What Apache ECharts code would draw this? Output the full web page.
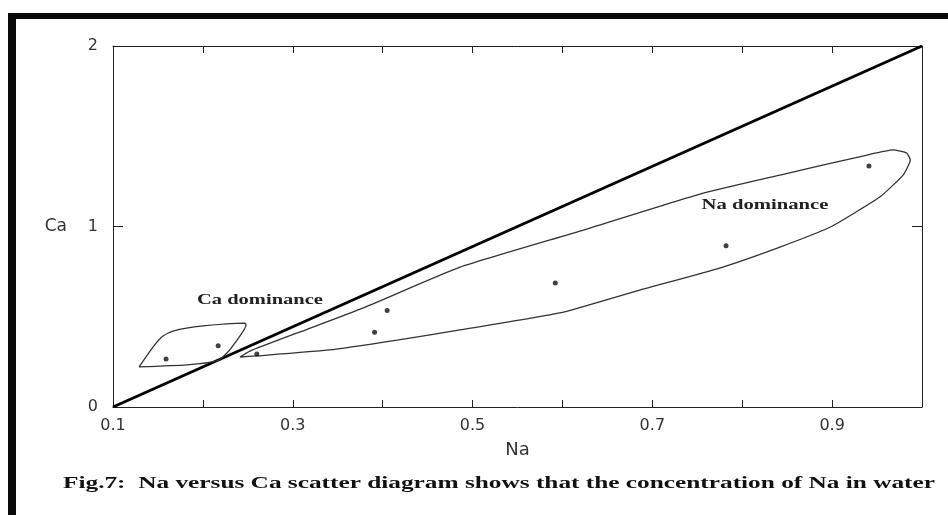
<!DOCTYPE html>
<html>
<head>
<meta charset="utf-8">
<script src="https://cdn.jsdelivr.net/npm/echarts@6/dist/echarts.min.js"></script>
<style>
html,body{margin:0;padding:0;background:#fff;}
#chart{width:948px;height:515px;}
</style>
</head>
<body>
<div id="chart"></div>
<script>
// ---- data ----
const xTickLabels = ['0.1', '0.3', '0.5', '0.7', '0.9'];
const yTickLabels = ['0', '1', '2'];
const sampleNa = [0.159, 0.217, 0.260, 0.391, 0.405, 0.592, 0.782, 0.941];
const sampleCa = [0.266, 0.340, 0.294, 0.414, 0.534, 0.687, 0.894, 1.335];
const equiNa = [0.1, 1.0];
const equiCa = [0, 2];
const caDomNa = [0.129, 0.1445, 0.1556, 0.1667, 0.200, 0.2468, 0.248, 0.2357, 0.2268, 0.2157, 0.1823, 0.129];
const caDomCa = [0.222, 0.332, 0.393, 0.421, 0.449, 0.465, 0.454, 0.355, 0.299, 0.255, 0.233, 0.222];
const naDomNa = [0.2413, 0.2524, 0.308, 0.378, 0.486, 0.6195, 0.753, 0.842, 0.939, 0.968, 0.983, 0.987, 0.979, 0.953, 0.898, 0.842, 0.775, 0.686, 0.597, 0.486, 0.416, 0.341, 0.260, 0.2413];
const naDomCa = [0.277, 0.310, 0.416, 0.548, 0.775, 0.975, 1.180, 1.285, 1.396, 1.424, 1.407, 1.368, 1.285, 1.163, 0.997, 0.886, 0.770, 0.648, 0.521, 0.427, 0.371, 0.316, 0.283, 0.277];
const regionLabels = ['Ca dominance', 'Na dominance'];
const regionLabelNa = [0.2635, 0.8253];
const regionLabelCa = [0.593, 1.119];
const captionText = 'Fig.7:  Na versus Ca scatter diagram shows that the concentration of Na in water';

const zip = (a, b) => a.map((v, i) => [v, b[i]]);

const chart = echarts.init(document.getElementById('chart'), null, {renderer: 'canvas'});
const axisColor = '#222';
const labelFont = 'DejaVu Sans';

function xFmt(v) {
  const s = (Math.round(v * 10) / 10).toFixed(1);
  return xTickLabels.includes(s) ? s : '';
}
function yFmt(v) {
  const s = String(Math.round(v));
  return yTickLabels.includes(s) ? s : '';
}

const option = {
  animation: false,
  backgroundColor: '#fff',
  grid: {left: 113, right: 26, top: 46, bottom: 108, containLabel: false},
  xAxis: [
    {
      type: 'value', position: 'bottom', min: 0.1, max: 1.0, interval: 0.1,
      axisLine: {show: true, lineStyle: {color: axisColor, width: 1}},
      axisTick: {show: true, inside: true, length: 7, lineStyle: {color: axisColor}},
      axisLabel: {formatter: xFmt, fontFamily: labelFont, fontSize: 16, color: '#333', margin: 11},
      splitLine: {show: false},
      name: 'Na', nameLocation: 'middle', nameGap: 34,
      nameTextStyle: {fontFamily: labelFont, fontSize: 18, color: '#333'}
    },
    {
      type: 'value', position: 'top', min: 0.1, max: 1.0, interval: 0.1,
      axisLine: {show: true, onZero: false, lineStyle: {color: axisColor, width: 1}},
      axisTick: {show: true, inside: true, length: 7, lineStyle: {color: axisColor}},
      axisLabel: {show: false},
      splitLine: {show: false}
    }
  ],
  yAxis: [
    {
      type: 'value', position: 'left', min: 0, max: 2, interval: 1,
      axisLine: {show: true, onZero: false, lineStyle: {color: axisColor, width: 1}},
      axisTick: {show: true, inside: true, length: 10, lineStyle: {color: axisColor}},
      axisLabel: {formatter: yFmt, fontFamily: labelFont, fontSize: 16, color: '#333', margin: 15},
      splitLine: {show: false},
      name: 'Ca', nameLocation: 'middle', nameRotate: 0, nameGap: 46,
      nameTextStyle: {fontFamily: labelFont, fontSize: 17, color: '#333'}
    },
    {
      type: 'value', position: 'right', min: 0, max: 2, interval: 1,
      axisLine: {show: true, onZero: false, lineStyle: {color: axisColor, width: 1}},
      axisTick: {show: true, inside: true, length: 10, lineStyle: {color: axisColor}},
      axisLabel: {show: false},
      splitLine: {show: false}
    }
  ],
  series: [
    {
      name: 'Equiline', type: 'line', data: zip(equiNa, equiCa),
      symbol: 'none', lineStyle: {color: '#000', width: 3}, z: 3
    },
    {
      name: 'Ca dominance', type: 'line', data: zip(caDomNa, caDomCa),
      symbol: 'none', smooth: 0.2, lineStyle: {color: '#333', width: 1.3}
    },
    {
      name: 'Na dominance', type: 'line', data: zip(naDomNa, naDomCa),
      symbol: 'none', smooth: 0.15, lineStyle: {color: '#333', width: 1.3}
    },
    {
      name: 'Samples', type: 'scatter', data: zip(sampleNa, sampleCa),
      symbol: 'circle', symbolSize: 5, itemStyle: {color: '#111'}, z: 4
    }
  ]
};
chart.setOption(option);

// text width helper for horizontally stretched scanned text
const ctx = document.createElement('canvas').getContext('2d');
function stretch(text, font, target) {
  ctx.font = font;
  return target / ctx.measureText(text).width;
}

const regFont = 'bold 15px "Liberation Serif"';
const regTargets = [126, 127];
const graphics = [
  {type: 'rect', shape: {x: 8, y: 13, width: 8, height: 502}, style: {fill: '#0a0a0a'}},
  {type: 'rect', shape: {x: 8, y: 13, width: 940, height: 6}, style: {fill: '#0a0a0a'}}
];
regionLabels.forEach((t, i) => {
  const p = chart.convertToPixel({xAxisIndex: 0, yAxisIndex: 0}, [regionLabelNa[i], regionLabelCa[i]]);
  graphics.push({
    type: 'text', x: p[0], y: p[1], scaleX: stretch(t, regFont, regTargets[i]),
    style: {text: t, font: regFont, fill: '#222', align: 'center', verticalAlign: 'middle'}
  });
});
const capFont = 'bold 16px "Liberation Serif"';
graphics.push({
  type: 'text', x: 499, y: 484, scaleX: stretch(captionText, capFont, 872),
  style: {text: captionText, font: capFont, fill: '#111', align: 'center', verticalAlign: 'middle'}
});
chart.setOption({graphic: graphics});
</script>
</body>
</html>
